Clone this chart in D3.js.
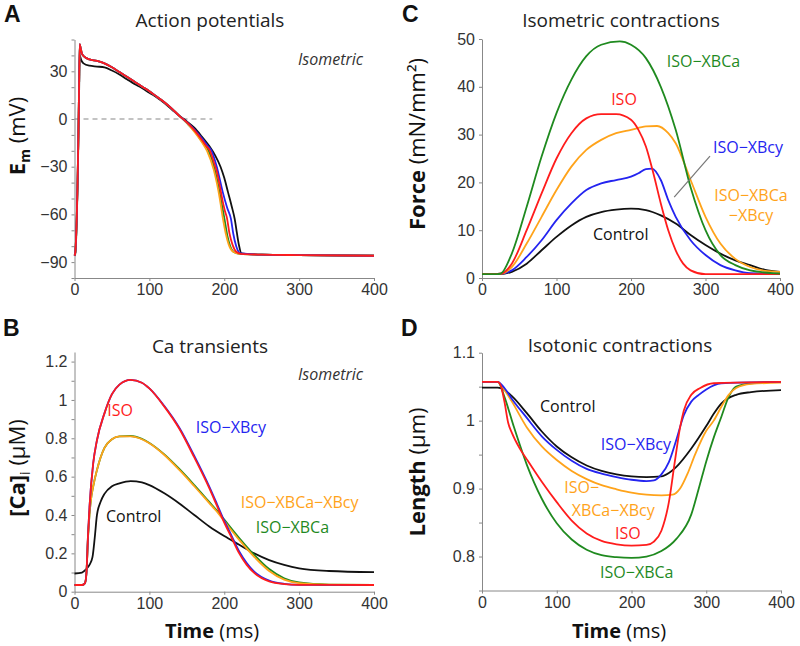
<!DOCTYPE html>
<html>
<head>
<meta charset="utf-8">
<script src="https://d3js.org/d3.v7.min.js"></script>
<style>
  html, body { margin: 0; background: #fff; }
  svg { font-family: "Open Sans", sans-serif; }
  .tick text { font-size: 16px; fill: #333; }
  .axis path, .axis line { stroke: #888; }
  .curve { fill: none; stroke-width: 1.8; }
</style>
</head>
<body>
<svg width="800" height="646"></svg>
<script>
// ---- tick labels
var timeTicks = [0, 100, 200, 300, 400];
var apTicks = [-90, -60, -30, 0, 30];
var apMinor = [-100, -80, -70, -50, -40, -20, -10, 10, 20, 40, 50];
var caTicks = [0, 0.2, 0.4, 0.6, 0.8, 1, 1.2];
var caMinor = [0.1, 0.3, 0.5, 0.7, 0.9, 1.1];
var forceTicks = [0, 10, 20, 30, 40, 50];
var lenTicks = [0.8, 0.9, 1, 1.1];
var lenMinor = [0.75, 0.85, 0.95, 1.05];

// ---- A: action potentials [t ms, Em mV]
var apControl = [[0,-86],[1,-85],[2,-78],[3,-64],[4,-44],[5,-18],[6,12],[7,40],[9,37],[12,35],[20,33.5],[30,33],[40,32.5],[50,30.5],[60,28],[70,25],[80,22],[90,19.5],[100,16.5],[110,13.5],[120,10],[130,6],[140,2],[150,-1.5],[160,-5.5],[170,-11],[180,-17],[188,-23],[195,-30],[200,-37],[205,-46],[210,-55],[214,-63],[217,-72],[219.5,-79],[223,-84.5],[250,-85.3],[300,-85.6],[400,-86]];
var apXBcy = [[0,-86],[1,-84],[2,-76],[3,-62],[4,-42],[5,-16],[6,16],[7,47],[8,45],[10,41],[15,38.5],[20,37.5],[30,36.5],[40,35],[50,32.5],[60,29.5],[70,26.5],[80,23.5],[90,20.5],[100,17.5],[110,14],[120,10.5],[130,6.5],[140,2],[150,-2],[160,-6.5],[170,-12],[178,-17],[183,-20],[190,-30],[198,-46],[204,-56],[209,-63],[212,-72],[216,-80],[222,-84.6],[250,-85.3],[300,-85.6],[400,-86]];
var apXBCa = [[0,-86],[1,-84],[2,-76],[3,-62],[4,-42],[5,-16],[6,16],[7,47],[8,45],[10,41],[15,38.5],[20,37.5],[30,36.5],[40,35],[50,32.5],[60,29.5],[70,26.5],[80,23.5],[90,20.5],[100,17.5],[110,14],[120,10.5],[130,6.5],[140,2],[150,-2.5],[160,-7.5],[170,-14],[179,-20],[188,-33],[196,-52],[200,-62],[204,-73],[208,-80],[214,-84],[221,-84.8],[250,-85.3],[300,-85.6],[400,-86]];
var apBoth = [[0,-86],[1,-84],[2,-76],[3,-62],[4,-42],[5,-16],[6,16],[7,47],[8,45],[10,41],[15,38.5],[20,37.5],[30,36.5],[40,35],[50,32.5],[60,29.5],[70,26.5],[80,23.5],[90,20.5],[100,17.5],[110,14],[120,10.5],[130,6.5],[140,2],[150,-2.5],[160,-8],[170,-14.5],[177,-20],[186,-32],[194,-50],[198,-62],[202,-72],[206,-79],[212,-83.5],[221,-84.8],[250,-85.3],[300,-85.6],[400,-86]];
var apISO = [[0,-86],[1,-84],[2,-76],[3,-62],[4,-42],[5,-16],[6,16],[7,47],[8,45],[10,41],[15,38.5],[20,37.5],[30,36.5],[40,35],[50,32.5],[60,29.5],[70,26.5],[80,23.5],[90,20.5],[100,17.5],[110,14],[120,10.5],[130,6.5],[140,2],[150,-2],[160,-7],[170,-13],[176,-17],[181,-20],[186,-27],[190,-33],[194,-42],[198,-52],[201,-58],[203.5,-62],[207,-72],[211,-79],[216,-83.5],[222,-84.8],[250,-85.3],[300,-85.6],[400,-86]];

// ---- B: Ca transients [t ms, Ca uM]
var caControl = [[0,0.095],[10,0.1],[15,0.115],[20,0.14],[24,0.18],[27,0.28],[30,0.4],[35,0.47],[40,0.51],[50,0.55],[60,0.565],[75,0.577],[90,0.57],[100,0.556],[120,0.513],[140,0.46],[160,0.4],[180,0.34],[200,0.29],[220,0.245],[240,0.2],[260,0.165],[280,0.14],[300,0.122],[340,0.108],[400,0.102]];
var caXBCa = [[0,0.035],[10,0.035],[14,0.045],[16,0.1],[18,0.28],[20,0.4],[22,0.48],[25,0.55],[30,0.635],[40,0.75],[50,0.795],[60,0.81],[75,0.812],[90,0.797],[100,0.776],[120,0.716],[140,0.64],[160,0.556],[180,0.468],[190,0.424],[200,0.376],[220,0.28],[240,0.192],[260,0.118],[280,0.07],[300,0.048],[340,0.037],[400,0.035]];
var caBoth = [[0,0.035],[10,0.035],[14,0.045],[16,0.1],[18,0.28],[20,0.4],[22,0.48],[25,0.55],[30,0.635],[40,0.75],[50,0.795],[60,0.81],[75,0.81],[90,0.795],[100,0.774],[120,0.713],[140,0.635],[160,0.55],[180,0.462],[190,0.418],[200,0.368],[220,0.27],[240,0.182],[260,0.108],[280,0.063],[300,0.045],[340,0.037],[400,0.035]];
var caXBcy = [[0,0.035],[10,0.035],[14,0.045],[16,0.1],[18,0.29],[20,0.44],[25,0.67],[30,0.79],[40,0.93],[50,1.03],[60,1.08],[75,1.105],[90,1.09],[100,1.06],[120,0.968],[140,0.855],[160,0.708],[180,0.548],[190,0.46],[200,0.37],[210,0.29],[220,0.21],[230,0.15],[240,0.105],[260,0.058],[280,0.041],[300,0.036],[400,0.035]];
var caISO = [[0,0.035],[10,0.035],[14,0.045],[16,0.1],[18,0.29],[20,0.44],[25,0.67],[30,0.79],[40,0.93],[50,1.03],[60,1.08],[75,1.105],[90,1.09],[100,1.06],[120,0.965],[140,0.85],[160,0.7],[180,0.54],[190,0.45],[200,0.36],[210,0.28],[220,0.2],[230,0.14],[240,0.098],[260,0.054],[280,0.04],[300,0.036],[400,0.035]];

// ---- C: isometric force [t ms, mN/mm2]
var fControl = [[0,0.8],[25,0.8],[40,1.3],[60,3],[80,5.8],[100,8.6],[120,11],[140,12.8],[160,13.8],[180,14.3],[200,14.5],[220,14.2],[240,13.1],[260,11.4],[280,9],[300,6.9],[320,5.1],[340,3.7],[360,2.7],[380,1.7],[400,1.3]];
var fXBcy = [[0,0.8],[25,0.9],[40,1.6],[60,4.4],[80,7.9],[100,12.1],[120,15.6],[140,18.4],[160,19.8],[180,20.5],[200,21.2],[210,21.9],[220,22.8],[228,22.9],[240,20.5],[250,16.3],[260,12.8],[280,7.9],[300,4.8],[320,2.7],[340,1.6],[360,1],[400,0.8]];
var fBoth = [[0,0.8],[25,0.9],[40,2.3],[60,7.2],[80,12.8],[100,18.4],[120,23.3],[140,26.8],[160,28.9],[180,30.3],[200,31],[220,31.7],[235,31.8],[250,30.3],[260,28.2],[280,20.5],[300,12.8],[320,7.2],[340,4],[360,2.3],[380,1.5],[400,1.3]];
var fISO = [[0,0.8],[25,0.9],[40,3],[60,10],[80,17.7],[100,25],[120,30.3],[140,33.4],[160,34.3],[180,34.3],[200,33.1],[210,31],[220,27.5],[230,21.9],[240,15.6],[250,10],[260,5.8],[270,3],[280,1.6],[300,0.8],[400,0.8]];
var fXBCa = [[0,0.8],[20,0.8],[25,0.9],[40,5.1],[60,14.9],[80,25.4],[100,34.5],[120,41.5],[140,46.4],[160,48.8],[185,49.5],[200,48.8],[220,46],[240,40],[260,31],[280,19],[300,10],[320,4.8],[340,2.7],[360,1.6],[400,0.9]];

// ---- D: isotonic length [t ms, um]
var lControl = [[0,1.0485],[21,1.0485],[30,1.045],[40,1.036],[60,1.011],[80,0.984],[100,0.962],[120,0.946],[140,0.934],[160,0.926],[180,0.921],[200,0.918],[220,0.917],[240,0.918],[250,0.923],[260,0.932],[280,0.959],[300,0.992],[310,1.01],[320,1.025],[340,1.038],[360,1.042],[400,1.045]];
var lXBcy = [[0,1.057],[21,1.057],[30,1.048],[40,1.032],[60,1.004],[80,0.977],[100,0.957],[120,0.941],[140,0.929],[160,0.922],[180,0.917],[200,0.913],[220,0.911],[230,0.912],[240,0.921],[250,0.939],[260,0.972],[270,1.008],[280,1.028],[290,1.038],[300,1.046],[310,1.052],[320,1.055],[400,1.057]];
var lBoth = [[0,1.057],[21,1.057],[30,1.045],[40,1.028],[60,0.99],[80,0.962],[100,0.942],[120,0.926],[140,0.914],[160,0.905],[180,0.899],[200,0.894],[220,0.891],[240,0.89],[255,0.891],[265,0.9],[275,0.922],[285,0.95],[300,0.985],[310,1.0],[320,1.02],[330,1.038],[340,1.048],[360,1.054],[400,1.056]];
var lISO = [[0,1.057],[21,1.057],[25,1.052],[30,1.028],[35,0.997],[40,0.982],[50,0.96],[60,0.943],[80,0.91],[100,0.88],[120,0.853],[140,0.834],[160,0.823],[180,0.818],[200,0.816],[220,0.817],[230,0.822],[240,0.838],[250,0.88],[258,0.94],[265,0.99],[270,1.015],[280,1.038],[292,1.048],[310,1.055],[400,1.057]];
var lXBCa = [[0,1.057],[21,1.057],[30,1.035],[42,0.993],[60,0.935],[80,0.885],[100,0.849],[120,0.825],[140,0.81],[160,0.802],[180,0.799],[200,0.798],[220,0.8],[240,0.808],[260,0.826],[280,0.862],[290,0.9],[300,0.94],[310,0.975],[320,1.005],[330,1.035],[340,1.05],[360,1.055],[400,1.057]];

var col = { control: "#111", iso: "#ff1c1c", xbcy: "#2424f0", xbca: "#1f8a1f", both: "#ffa31a" };
var fmt = d3.format("~g");

var svg = d3.select("svg");

function panel(o) {
  var g = svg.append("g");
  var x = d3.scaleLinear().domain([0, 400]).range(o.xr);
  var y = d3.scaleLinear().domain(o.yd).range(o.yr);

  g.append("g").attr("class", "axis").attr("transform", "translate(0," + o.yr[0] + ")")
    .call(d3.axisBottom(x).tickValues(timeTicks).tickSize(3).tickSizeOuter(0).tickFormat(fmt));
  g.append("g").attr("class", "axis").attr("transform", "translate(" + o.xr[0] + ",0)")
    .call(d3.axisLeft(y).tickValues(o.ticks).tickSize(3).tickPadding(4).tickSizeOuter(0).tickFormat(fmt));
  if (o.minor) {
    g.append("g").attr("class", "axis").attr("transform", "translate(" + o.xr[0] + ",0)")
      .call(d3.axisLeft(y).tickValues(o.minor).tickSize(3).tickFormat("").tickSizeOuter(0))
      .select(".domain").remove();
  }

  if (o.dash) {
    g.append("line").attr("x1", x(0)).attr("x2", x(o.dash)).attr("y1", y(0)).attr("y2", y(0))
      .attr("stroke", "#888").attr("stroke-width", 1.2).attr("stroke-dasharray", "5,4");
  }

  var line = d3.line().x(function(d) { return x(d[0]); }).y(function(d) { return y(d[1]); })
    .curve(d3.curveMonotoneX);
  o.series.forEach(function(s) {
    g.append("path").attr("class", "curve").attr("d", line(s[0])).attr("stroke", col[s[1]]);
  });

  (o.labels || []).forEach(function(l) {
    g.append("text").attr("x", x(l[0])).attr("y", y(l[1])).attr("fill", col[l[3]])
      .attr("font-size", 16).attr("text-anchor", l[4] || "start").text(l[2]);
  });

  // title and panel letter
  g.append("text").attr("x", o.title[1]).attr("y", o.title[2]).attr("text-anchor", "middle")
    .attr("font-size", 19).attr("fill", "#222").text(o.title[0]);
  g.append("text").attr("x", o.letter[1]).attr("y", o.letter[2]).attr("font-size", 23)
    .attr("font-family", "'Liberation Sans', Arial, sans-serif")
    .attr("font-weight", "bold").attr("fill", "#111").text(o.letter[0]);

  if (o.iso) {
    g.append("text").attr("x", o.iso[0]).attr("y", o.iso[1]).attr("font-size", 16)
      .attr("font-style", "italic").attr("fill", "#333").text("Isometric");
  }

  var yl = g.append("text").attr("transform", "translate(" + o.ylab[0] + "," + o.ylab[1] + ") rotate(-90)")
    .attr("text-anchor", "middle").attr("font-size", 22).attr("fill", "#111");
  o.ylab[2].forEach(function(p) {
    var t = yl.append("tspan").text(p.t);
    if (p.b) t.attr("font-weight", "bold");
    if (p.fs) t.attr("font-size", p.fs);
    if (p.dy) t.attr("dy", p.dy);
  });

  if (o.xlab) {
    var xl = g.append("text").attr("x", o.xlab[0]).attr("y", o.xlab[1]).attr("text-anchor", "middle")
      .attr("font-size", 20).attr("fill", "#111");
    xl.append("tspan").attr("font-weight", "bold").text("Time");
    xl.append("tspan").text(" (ms)");
  }
  return { g: g, x: x, y: y };
}

panel({
  xr: [74.5, 374], yd: [-100, 50], yr: [278, 39.5], ticks: apTicks, minor: apMinor, dash: 184,
  series: [[apControl, "control"], [apXBCa, "xbca"], [apBoth, "both"], [apXBcy, "xbcy"], [apISO, "iso"]],
  title: ["Action potentials", 210, 27], letter: ["A", 4, 22], iso: [298, 65],
  ylab: [25, 136, [{t: "E", b: 1}, {t: "m", b: 1, fs: 14, dy: 5}, {t: " (mV)", dy: -5}]]
});

panel({
  xr: [74.5, 374], yd: [0, 1.25], yr: [591.7, 352], ticks: caTicks, minor: caMinor,
  series: [[caControl, "control"], [caXBCa, "xbca"], [caBoth, "both"], [caXBcy, "xbcy"], [caISO, "iso"]],
  labels: [[61, 0.917, "ISO", "iso", "middle"], [162, 0.828, "ISO\u2212XBcy", "xbcy"],
           [222, 0.437, "ISO\u2212XBCa\u2212XBcy", "both"], [242, 0.306, "ISO\u2212XBCa", "xbca"],
           [42, 0.364, "Control", "control"]],
  title: ["Ca transients", 210, 353], letter: ["B", 3, 336], iso: [298, 380],
  ylab: [25, 468, [{t: "[Ca]", b: 1}, {t: "i", fs: 14, dy: 5}, {t: " (\u03bcM)", dy: -5}]],
  xlab: [212, 638]
});

var c = panel({
  xr: [482, 780], yd: [0, 50], yr: [278, 39], ticks: forceTicks,
  series: [[fControl, "control"], [fXBcy, "xbcy"], [fBoth, "both"], [fISO, "iso"], [fXBCa, "xbca"]],
  labels: [[248, 44.1, "ISO\u2212XBCa", "xbca"], [190.6, 36.2, "ISO", "iso", "middle"],
           [310, 26.2, "ISO\u2212XBcy", "xbcy"], [361, 16.1, "ISO\u2212XBCa", "both", "middle"],
           [361, 11.9, "\u2212XBcy", "both", "middle"], [149, 7.9, "Control", "control"]],
  title: ["Isometric contractions", 621, 27], letter: ["C", 402, 22],
  ylab: [425, 144, [{t: "Force", b: 1}, {t: " (mN/mm\u00b2)"}]]
});
// callout from the ISO-XBcy label to its curve
c.g.append("line").attr("x1", c.x(306)).attr("y1", c.y(25.5)).attr("x2", c.x(258)).attr("y2", c.y(16.9))
  .attr("stroke", "#777").attr("stroke-width", 1.2);

panel({
  xr: [482, 781], yd: [0.75, 1.1], yr: [590.5, 352.7], ticks: lenTicks, minor: lenMinor,
  series: [[lControl, "control"], [lXBCa, "xbca"], [lBoth, "both"], [lXBcy, "xbcy"], [lISO, "iso"]],
  labels: [[77.6, 1.013, "Control", "control"], [159, 0.957, "ISO\u2212XBcy", "xbcy"],
           [110, 0.893, "ISO\u2212", "both"], [120, 0.86, "XBCa\u2212XBcy", "both"],
           [178, 0.826, "ISO", "iso"], [158, 0.769, "ISO\u2212XBCa", "xbca"]],
  title: ["Isotonic contractions", 620, 352], letter: ["D", 401, 336],
  ylab: [425, 472, [{t: "Length", b: 1}, {t: " (\u03bcm)"}]],
  xlab: [619, 638]
});
</script>
</body>
</html>
